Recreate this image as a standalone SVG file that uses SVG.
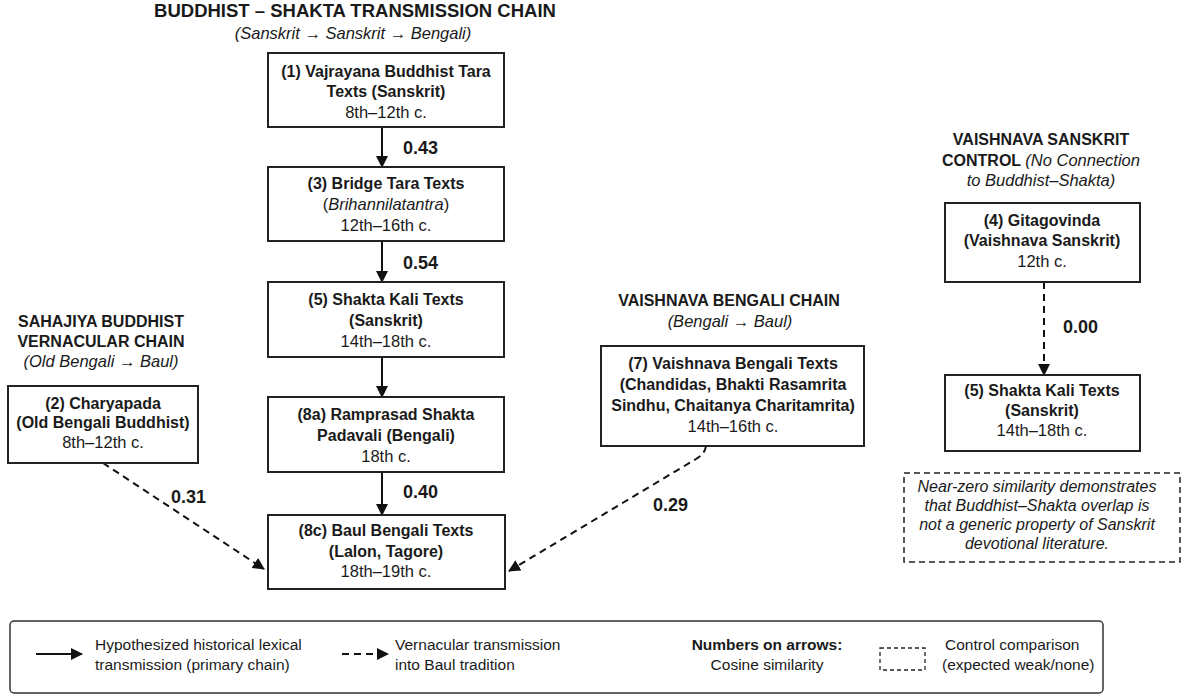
<svg xmlns="http://www.w3.org/2000/svg" width="1183" height="697" viewBox="0 0 1183 697">
<style>
text{font-family:"Liberation Sans",Arial,sans-serif;fill:#1a1a1a}
.t{font-size:18.5px;font-weight:bold}
.h{font-size:16px;font-weight:bold}
.s{font-size:16.5px;font-style:italic}
.b{font-size:16px;font-weight:bold}
.r{font-size:16.5px}
.n{font-size:18px;font-weight:bold}
.lg{font-size:15.5px}
.note{font-size:16px;font-style:italic}
.box{fill:#fff;stroke:#222;stroke-width:2}
.sol{fill:none;stroke:#111;stroke-width:2}
.dash{fill:none;stroke:#111;stroke-width:2;stroke-dasharray:7 5}
</style>
<defs>
<marker id="ah" markerWidth="12" markerHeight="12" viewBox="0 0 12 12" refX="11" refY="6" orient="auto" markerUnits="userSpaceOnUse">
<path d="M0,0 L12,6 L0,12 Z" fill="#111"/>
</marker>
</defs>
<rect width="1183" height="697" fill="#fff"/>

<g id="headers" text-anchor="middle">
<text class="t" x="355" y="17">BUDDHIST – SHAKTA TRANSMISSION CHAIN</text>
<text class="s" x="353" y="39">(Sanskrit → Sanskrit → Bengali)</text>
<text class="h" x="101" y="327">SAHAJIYA BUDDHIST</text>
<text class="h" x="101" y="347">VERNACULAR CHAIN</text>
<text class="s" x="101" y="367">(Old Bengali → Baul)</text>
<text class="h" x="729" y="306">VAISHNAVA BENGALI CHAIN</text>
<text class="s" x="730" y="327">(Bengali → Baul)</text>
<text class="h" x="1041" y="145">VAISHNAVA SANSKRIT</text>
<text x="1041" y="166"><tspan class="h">CONTROL </tspan><tspan class="s">(No Connection</tspan></text>
<text class="s" x="1041" y="186">to Buddhist–Shakta)</text>
</g>

<g id="connectors">
<line class="sol" x1="382" y1="127" x2="382" y2="167" marker-end="url(#ah)"/>
<line class="sol" x1="382" y1="241" x2="382" y2="282" marker-end="url(#ah)"/>
<line class="sol" x1="382" y1="357" x2="382" y2="397" marker-end="url(#ah)"/>
<line class="sol" x1="382" y1="472" x2="382" y2="515" marker-end="url(#ah)"/>
<path class="dash" d="M103,463 L264,569" marker-end="url(#ah)"/>
<path class="dash" d="M706,446 Q705,454 696,459 L509,571" marker-end="url(#ah)"/>
<line class="dash" x1="1044" y1="282" x2="1044" y2="375" marker-end="url(#ah)"/>
<g text-anchor="start">
<text class="n" x="403" y="154">0.43</text>
<text class="n" x="403" y="269">0.54</text>
<text class="n" x="403" y="498">0.40</text>
<text class="n" x="171" y="503">0.31</text>
<text class="n" x="653" y="511">0.29</text>
<text class="n" x="1063" y="333">0.00</text>
</g>
</g>

<g id="n1" text-anchor="middle">
<rect class="box" x="268" y="53" width="236" height="74"/>
<text class="b" x="386" y="77">(1) Vajrayana Buddhist Tara</text>
<text class="b" x="386" y="97">Texts (Sanskrit)</text>
<text class="r" x="386" y="118">8th–12th c.</text>
</g>
<g id="n3" text-anchor="middle">
<rect class="box" x="268" y="167" width="236" height="74"/>
<text class="b" x="386" y="189">(3) Bridge Tara Texts</text>
<text class="r" x="386" y="210">(<tspan font-style="italic">Brihannilatantra</tspan>)</text>
<text class="r" x="386" y="231">12th–16th c.</text>
</g>
<g id="n5" text-anchor="middle">
<rect class="box" x="268" y="282" width="236" height="75"/>
<text class="b" x="386" y="305">(5) Shakta Kali Texts</text>
<text class="b" x="386" y="326">(Sanskrit)</text>
<text class="r" x="386" y="347">14th–18th c.</text>
</g>
<g id="n8a" text-anchor="middle">
<rect class="box" x="268" y="397" width="236" height="75"/>
<text class="b" x="386" y="420">(8a) Ramprasad Shakta</text>
<text class="b" x="386" y="441">Padavali (Bengali)</text>
<text class="r" x="386" y="462">18th c.</text>
</g>
<g id="n8c" text-anchor="middle">
<rect class="box" x="268" y="515" width="237" height="74"/>
<text class="b" x="386" y="536">(8c) Baul Bengali Texts</text>
<text class="b" x="386" y="557">(Lalon, Tagore)</text>
<text class="r" x="386" y="577">18th–19th c.</text>
</g>
<g id="n2" text-anchor="middle">
<rect class="box" x="8" y="386" width="190" height="77"/>
<text class="b" x="103" y="409">(2) Charyapada</text>
<text class="b" x="103" y="428">(Old Bengali Buddhist)</text>
<text class="r" x="103" y="448">8th–12th c.</text>
</g>
<g id="n7" text-anchor="middle">
<rect class="box" x="601" y="346" width="263" height="100"/>
<text class="b" x="733" y="369">(7) Vaishnava Bengali Texts</text>
<text class="b" x="733" y="390">(Chandidas, Bhakti Rasamrita</text>
<text class="b" x="733" y="411">Sindhu, Chaitanya Charitamrita)</text>
<text class="r" x="733" y="432">14th–16th c.</text>
</g>
<g id="n4" text-anchor="middle">
<rect class="box" x="945" y="203" width="195" height="79"/>
<text class="b" x="1042" y="226">(4) Gitagovinda</text>
<text class="b" x="1042" y="246">(Vaishnava Sanskrit)</text>
<text class="r" x="1042" y="267">12th c.</text>
</g>
<g id="n5b" text-anchor="middle">
<rect class="box" x="945" y="375" width="195" height="76"/>
<text class="b" x="1042" y="396">(5) Shakta Kali Texts</text>
<text class="b" x="1042" y="416">(Sanskrit)</text>
<text class="r" x="1042" y="436">14th–18th c.</text>
</g>
<g id="note" text-anchor="middle">
<rect x="904" y="473" width="276" height="89" fill="none" stroke="#222" stroke-width="1.5" stroke-dasharray="6 4"/>
<text class="note" x="1037" y="492">Near-zero similarity demonstrates</text>
<text class="note" x="1037" y="511">that Buddhist–Shakta overlap is</text>
<text class="note" x="1037" y="530">not a generic property of Sanskrit</text>
<text class="note" x="1037" y="549">devotional literature.</text>
</g>

<g id="legend">
<rect x="10" y="621" width="1093" height="72" rx="4" fill="#fff" stroke="#333" stroke-width="1.5"/>
<line class="sol" x1="36" y1="654" x2="82" y2="654" marker-end="url(#ah)"/>
<text class="lg" x="95" y="650">Hypothesized historical lexical</text>
<text class="lg" x="95" y="670">transmission (primary chain)</text>
<line class="dash" x1="342" y1="654" x2="388" y2="654" stroke-dasharray="5 4" marker-end="url(#ah)"/>
<text class="lg" x="395" y="650">Vernacular transmission</text>
<text class="lg" x="395" y="670">into Baul tradition</text>
<text class="lg" x="767" y="650" text-anchor="middle" font-weight="bold">Numbers on arrows:</text>
<text class="lg" x="767" y="670" text-anchor="middle">Cosine similarity</text>
<rect x="880" y="648" width="45" height="22" fill="none" stroke="#222" stroke-width="1.3" stroke-dasharray="4 3"/>
<text class="lg" x="945" y="650">Control comparison</text>
<text class="lg" x="942" y="670">(expected weak/none)</text>
</g>
</svg>
